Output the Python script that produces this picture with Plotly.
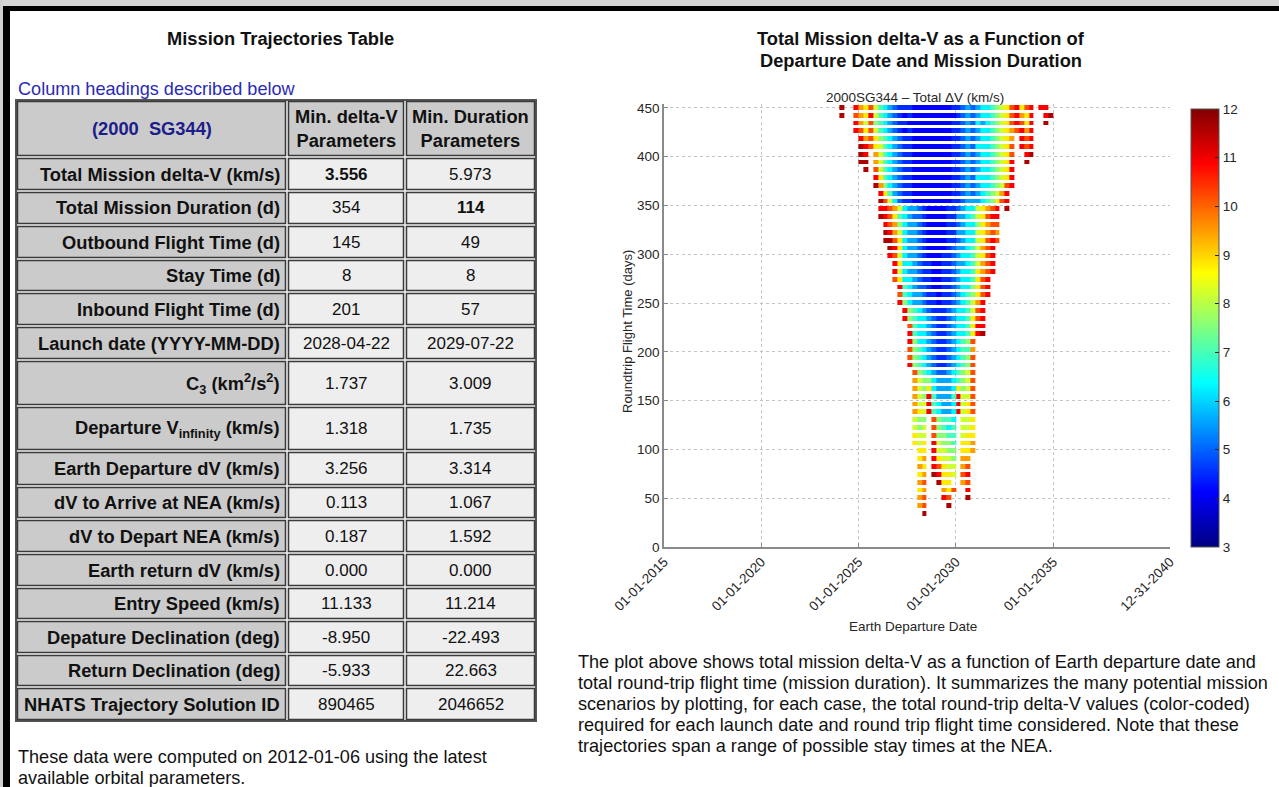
import plotly.graph_objects as go
import pandas as pd

# ---------------------------------------------------------------- data
# rows of the scatter: total round-trip flight time (days)
FLIGHT_TIME_DAYS = [450, 442, 434, 426, 418, 410, 402, 394, 386, 378, 370, 362, 354,
                    346, 338, 330, 322, 314, 306, 298, 290, 282, 274, 266, 258, 250,
                    242, 234, 226, 218, 210, 202, 194, 186, 178, 170, 162, 154, 146,
                    138, 130, 122, 114, 106, 98, 90, 82, 74, 66, 58, 50, 42, 34]

# departure-date columns: calendar quarters starting 2023-07-01 (46 quarters)
FIRST_QUARTER = "2023-07-01"
N_QUARTERS = 46

# colour readings (total delta-V, km/s) used as shorthand in ROW_SEGMENTS
DV_CODE = {"1": 4.1, "2": 4.5, "3": 5.0, "4": 5.6, "5": 6.3, "6": 7.0, "7": 7.6,
           "8": 8.2, "9": 8.8, "a": 9.5, "b": 10.2, "c": 10.9, "d": 11.6}

# per row: (first quarter index, delta-V codes for consecutive quarters)
ROW_SEGMENTS = [
    [(2, "d"), (5, "ca9b8654322211111111223434556789bc9bc"), (43, "cc")],   # 450
    [(2, "d"), (5, "ba9c8654321211111111123434556789bca9c"), (44, "cd")],   # 442
    [(5, "ca8b7654322111111111223435456789bcb9c"), (44, "d")],             # 434
    [(5, "cb9b8654321211111111223434556789abcac")],                        # 426
    [(6, "cab9765432211111111223434556789a"), (39, "cbc")],                # 418
    [(6, "dcb9865432211111111223435556789b"), (39, "cbc")],                # 410
    [(6, "dc"), (9, "a865432211111111223434556789b"), (40, "cd")],          # 402
    [(6, "dd"), (9, "a865432211111111223434556789c"), (40, "d")],           # 394
    [(7, "d"), (9, "b865432211111111223434556789c")],                      # 386
    [(9, "c965432211111111223435556789c")],                                # 378
    [(9, "da7543221111111122343455678bc")],                                # 370
    [(10, "c964322111111112234345678ac")],                                 # 362
    [(10, "db85322111111112234445679bc")],                                 # 354
    [(10, "ccba854432111122345589abc"), (36, "d")],                        # 346
    [(10, "dcb9654332111122445689bcc")],                                   # 338
    [(11, "cba754432111122345579abb")],                                    # 330
    [(11, "dca854432111122445589aba")],                                    # 322
    [(11, "ddb954432111122345589bcb")],                                    # 314
    [(12, "dc95443211112344568abc")],                                      # 306
    [(12, "cb854432111223455689bc")],                                      # 298
    [(13, "c95543221122344568abc")],                                       # 290
    [(13, "c85443221122345569abc")],                                       # 282
    [(13, "b95543221122345569bc")],                                        # 274
    [(14, "c6543321122345579bc")],                                         # 266
    [(14, "b6544322122345679bc")],                                         # 258
    [(14, "c754432212234568ac")],                                          # 250
    [(15, "c76543222345568bc")],                                           # 242
    [(15, "c76554322345569bc")],                                           # 234
    [(16, "b6554322345569cc")],                                            # 226
    [(16, "c6554322345569cd")],                                            # 218
    [(16, "c755432234567b")],                                              # 210
    [(16, "b765432234566a")],                                              # 202
    [(16, "b765432234567b")],                                              # 194
    [(16, "c765432234567b")],                                              # 186
    [(17, "b76543345678b")],                                               # 178
    [(17, "a87754445678b")],                                               # 170
    [(17, "a87954445978b")],                                               # 162
    [(17, "a87c64446c88b")],                                               # 154
    [(17, "a88c65445c89b")],                                               # 146
    [(17, "a98c65445c89b")],                                               # 138
    [(17, "877"), (21, "b7665"), (27, "889")],                             # 130
    [(17, "878"), (21, "b7656"), (27, "889")],                             # 122
    [(17, "988"), (21, "b7766"), (27, "899")],                             # 114
    [(17, "989"), (21, "c8776"), (27, "99a")],                             # 106
    [(18, "99"), (21, "c8877"), (27, "99a")],                              # 98
    [(18, "9a"), (21, "c9887"), (27, "aa")],                               # 90
    [(18, "a9"), (21, "cb988"), (27, "ab")],                               # 82
    [(18, "9a"), (21, "dc998"), (27, "bc")],                               # 74
    [(18, "ab"), (22, "d99"), (27, "ab")],                                 # 66
    [(18, "9a"), (23, "a9b"), (28, "c")],                                  # 58
    [(18, "ab"), (23, "cb"), (28, "d")],                                   # 50
    [(18, "ab"), (24, "d")],                                               # 42
    [(19, "d")],                                                           # 34
]

X_TICK_DATES = ["2015-01-01", "2020-01-01", "2025-01-01", "2030-01-01", "2035-01-01", "2040-12-31"]
X_TICK_LABELS = ["01-01-2015", "01-01-2020", "01-01-2025", "01-01-2030", "01-01-2035", "12-31-2040"]
Y_TICKS = [0, 50, 100, 150, 200, 250, 300, 350, 400, 450]
CBAR_TICKS = [3, 4, 5, 6, 7, 8, 9, 10, 11, 12]

TABLE_LABELS = ["Total Mission delta-V (km/s)", "Total Mission Duration (d)",
                "Outbound Flight Time (d)", "Stay Time (d)", "Inbound Flight Time (d)",
                "Launch date (YYYY-MM-DD)", "C<sub>3</sub> (km<sup>2</sup>/s<sup>2</sup>)",
                "Departure V<sub>infinity</sub> (km/s)", "Earth Departure dV (km/s)",
                "dV to Arrive at NEA (km/s)", "dV to Depart NEA (km/s)",
                "Earth return dV (km/s)", "Entry Speed (km/s)",
                "Depature Declination (deg)", "Return Declination (deg)",
                "NHATS Trajectory Solution ID"]
MIN_DV_PARAMS = ["3.556", "354", "145", "8", "201", "2028-04-22", "1.737", "1.318",
                 "3.256", "0.113", "0.187", "0.000", "11.133", "-8.950", "-5.933", "890465"]
MIN_DURATION_PARAMS = ["5.973", "114", "49", "8", "57", "2029-07-22", "3.009", "1.735",
                       "3.314", "1.067", "1.592", "0.000", "11.214", "-22.493", "22.663", "2046652"]
BOLD_MIN_DV_ROW = 0
BOLD_MIN_DURATION_ROW = 1

PARAGRAPH_LINES = [
    "The plot above shows total mission delta-V as a function of Earth departure date and",
    "total round-trip flight time (mission duration). It summarizes the many potential mission",
    "scenarios by plotting, for each case, the total round-trip delta-V values (color-coded)",
    "required for each launch date and round trip flight time considered. Note that these",
    "trajectories span a range of possible stay times at the NEA.",
]
FOOTNOTE_LINES = ["These data were computed on 2012-01-06 using the latest",
                  "available orbital parameters."]

# ---------------------------------------------------------------- layout constants
FIG_W, FIG_H = 1279, 787
PL, PR, PT, PB = 664, 1170, 104, 547          # plot area in pixels
FONT = "Liberation Sans, Arial, Helvetica, sans-serif"
REG = 18.1     # regular page text size
BOLD = 18.3    # bold page text size
VAL = 17.0     # numeric table values
AX = 13.5      # chart (axes) text size


def fx(px):
    return (px - PL) / (PR - PL)


def fy(py):
    return (PB - py) / (PB - PT)


JET = [[0, "rgb(0,0,128)"], [0.125, "rgb(0,0,255)"], [0.375, "rgb(0,255,255)"],
       [0.625, "rgb(255,255,0)"], [0.875, "rgb(255,0,0)"], [1, "rgb(128,0,0)"]]

# ---------------------------------------------------------------- heatmap grid
quarter_edges = pd.date_range(FIRST_QUARTER, periods=N_QUARTERS + 1, freq="QS")
x_edges = [d.strftime("%Y-%m-%d") for d in quarter_edges]
z = []
for segs in ROW_SEGMENTS:
    row = [None] * N_QUARTERS
    for start, codes in segs:
        for k, ch in enumerate(codes):
            if ch != " ":
                row[start + k] = DV_CODE[ch]
    z.append(row)

fig = go.Figure()
fig.add_trace(go.Heatmap(
    x=x_edges, y=FLIGHT_TIME_DAYS, z=z, zmin=3, zmax=12, colorscale=JET,
    ygap=3, hoverinfo="skip",
    colorbar=dict(x=fx(1191), xanchor="left", y=fy(547), yanchor="bottom",
                  len=(547 - 109) / (PB - PT), lenmode="fraction", thickness=28,
                  xpad=0, ypad=0, outlinewidth=1, outlinecolor="#555555",
                  tickvals=CBAR_TICKS, ticks="inside", ticklen=4, tickcolor="#222222",
                  tickfont=dict(family=FONT, size=AX, color="#262626")),
))

axis_common = dict(showgrid=True, gridcolor="#c4c4c4", griddash="dot", gridwidth=1,
                   showline=True, linecolor="#8a8a8a", linewidth=1.5, ticks="inside",
                   ticklen=4, tickcolor="#8a8a8a", zeroline=False,
                   tickfont=dict(family=FONT, size=AX, color="#262626"))
fig.update_xaxes(type="date", range=["2015-01-01", "2040-12-31"], tickvals=X_TICK_DATES,
                 ticktext=X_TICK_LABELS, tickangle=-45, **axis_common)
fig.update_yaxes(range=[0, 454], tickvals=Y_TICKS, **axis_common)

shapes = []
annotations = []


def rect(x0, y0, x1, y1, fill, line_color=None, line_width=0):
    shapes.append(dict(type="rect", xref="paper", yref="paper",
                       x0=fx(x0), x1=fx(x1), y0=fy(y1), y1=fy(y0), fillcolor=fill,
                       line=dict(color=line_color or fill, width=line_width), layer="above"))


def text(px, py, s, size=REG, color="#111111", xanchor="center", yanchor="middle",
         bold=False, angle=0):
    if bold:
        s = "<b>" + s + "</b>"
    annotations.append(dict(xref="paper", yref="paper", x=fx(px), y=fy(py), text=s,
                            showarrow=False, xanchor=xanchor, yanchor=yanchor,
                            textangle=angle, font=dict(family=FONT, size=size, color=color)))


# page frame
rect(0, 0, 1279, 6, "#d4d4d4")
rect(0, 0, 3, 787, "#cfcfcf")
rect(3, 6, 1279, 11, "#000000")
rect(3, 6, 10, 787, "#000000")

# ---------------------------------------------------------------- chart texts
text(921, 38, "Total Mission delta-V as a Function of", size=BOLD, bold=True)
text(921, 61, "Departure Date and Mission Duration", size=BOLD, bold=True)
text(915, 97, "2000SG344 \u2013 Total \u0394V (km/s)", size=AX, color="#262626")
text(627, 332, "Roundtrip Flight Time (days)", size=AX - 0.5, color="#262626", angle=-90)
text(913, 626, "Earth Departure Date", size=AX, color="#262626")
for i, line in enumerate(PARAGRAPH_LINES):
    text(576, 662 + 21 * i, line, xanchor="left")

# ---------------------------------------------------------------- table
text(280, 39, "Mission Trajectories Table", size=BOLD, bold=True)
text(16, 89, "Column headings described below", color="#2a2ab8", xanchor="left")
COL_EDGES = [16, 287, 405, 536]
HEADER_TOP = 100
ROW_EDGES = [157, 191, 225, 259, 292, 326, 360, 406, 451, 486, 519, 553, 587, 620, 654, 687, 721]
LABEL_BG, VALUE_BG, HEAD_BG, BORDER = "#cbcbcb", "#eeeeee", "#cbcbcb", "#3a3a3a"

rect(COL_EDGES[0], HEADER_TOP, COL_EDGES[-1], ROW_EDGES[-1], "#f2f2f2", "#555555", 2)
edges_y = [HEADER_TOP] + ROW_EDGES
for r in range(len(edges_y) - 1):
    y0, y1 = edges_y[r], edges_y[r + 1]
    for c in range(3):
        x0, x1 = COL_EDGES[c], COL_EDGES[c + 1]
        fill = LABEL_BG if c == 0 else (HEAD_BG if r == 0 else VALUE_BG)
        rect(x0 + 1.5, y0 + 1.5, x1 - 1.5, y1 - 1.5, fill, BORDER, 1.5)

ymid = (HEADER_TOP + ROW_EDGES[0]) / 2
text((COL_EDGES[0] + COL_EDGES[1]) / 2, ymid, "(2000  SG344)", size=BOLD, color="#1c1c8a", bold=True)
text((COL_EDGES[1] + COL_EDGES[2]) / 2, ymid, "<b>Min. delta-V</b><br><b>Parameters</b>", size=BOLD)
text((COL_EDGES[2] + COL_EDGES[3]) / 2, ymid, "<b>Min. Duration</b><br><b>Parameters</b>", size=BOLD)
for r, label in enumerate(TABLE_LABELS):
    yc = (edges_y[r + 1] + edges_y[r + 2]) / 2
    text(COL_EDGES[1] - 5, yc, label, size=BOLD, xanchor="right", bold=True)
    text((COL_EDGES[1] + COL_EDGES[2]) / 2, yc, MIN_DV_PARAMS[r], size=VAL,
         bold=(r == BOLD_MIN_DV_ROW))
    text((COL_EDGES[2] + COL_EDGES[3]) / 2, yc, MIN_DURATION_PARAMS[r], size=VAL,
         bold=(r == BOLD_MIN_DURATION_ROW))

for i, line in enumerate(FOOTNOTE_LINES):
    text(16, 757 + 21 * i, line, xanchor="left")

fig.update_layout(
    width=FIG_W, height=FIG_H, autosize=False,
    margin=dict(l=PL, r=FIG_W - PR, t=PT, b=FIG_H - PB, pad=0),
    paper_bgcolor="white", plot_bgcolor="white",
    shapes=shapes, annotations=annotations, showlegend=False,
    font=dict(family=FONT),
)

fig.write_html("out.html", config={"displayModeBar": False},
               post_script="document.body.style.margin='0';")
